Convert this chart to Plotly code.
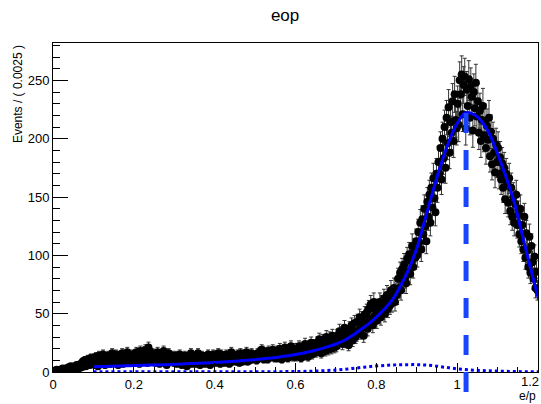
import numpy as np
import plotly.graph_objects as go

# ---- data: histogram of e/p, 480 bins of width 0.0025 on [0, 1.2] ----
bin_width = 0.0025
x_min, x_max = 0.0, 1.2
counts = [
    0, 1, 0, 2, 1, 0, 1, 2, 0, 3, 1, 2, 3, 1, 2, 4, 2, 5, 3, 2,
    4, 5, 2, 6, 4, 3, 6, 7, 4, 9, 6, 10, 5, 8, 11, 7, 6, 12, 9, 10,
    12, 6, 13, 9, 5, 14, 10, 7, 8, 15, 12, 6, 11, 8, 14, 10, 7, 13, 16, 9,
    13, 8, 15, 10, 6, 14, 12, 9, 16, 7, 13, 11, 8, 17, 10, 14, 9, 12, 15, 11,
    14, 9, 17, 11, 15, 7, 18, 12, 10, 16, 13, 19, 11, 8, 21, 18, 13, 10, 16, 12,
    15, 8, 13, 17, 10, 7, 14, 12, 9, 18, 11, 13, 6, 15, 16, 9, 12, 10, 14, 8,
    9, 14, 7, 12, 8, 15, 10, 6, 13, 9, 14, 11, 5, 12, 8, 10, 16, 7, 11, 9,
    12, 7, 10, 16, 8, 6, 11, 14, 9, 13, 7, 10, 8, 15, 11, 6, 12, 9, 15, 10,
    8, 14, 10, 16, 12, 7, 15, 9, 13, 8, 12, 15, 10, 14, 7, 11, 17, 9, 13, 11,
    13, 9, 15, 10, 8, 16, 12, 9, 15, 11, 13, 17, 9, 14, 10, 12, 16, 11, 14, 12,
    14, 10, 16, 12, 17, 13, 19, 18, 11, 15, 12, 17, 11, 18, 14, 13, 16, 19, 14, 12,
    15, 18, 12, 16, 20, 13, 11, 18, 15, 21, 13, 17, 12, 19, 15, 22, 16, 13, 20, 14,
    13, 20, 15, 22, 17, 12, 21, 18, 14, 24, 16, 19, 13, 22, 18, 25, 15, 20, 23, 17,
    17, 25, 19, 28, 21, 16, 27, 22, 24, 18, 30, 23, 19, 29, 25, 20, 31, 24, 21, 28,
    22, 31, 25, 35, 27, 33, 24, 30, 38, 26, 34, 29, 23, 37, 31, 40, 27, 35, 42, 30,
    32, 43, 36, 47, 34, 45, 39, 31, 49, 42, 51, 37, 54, 44, 58, 46, 40, 60, 48, 53,
    44, 55, 49, 60, 47, 58, 52, 63, 50, 56, 66, 54, 61, 57, 70, 59, 65, 72, 60, 68,
    66, 80, 72, 85, 70, 88, 78, 92, 81, 76, 97, 86, 101, 84, 95, 108, 90, 104, 98, 112,
    100, 120, 111, 128, 105, 131, 118, 140, 125, 112, 146, 133, 152, 128, 158, 141, 166, 149, 137, 170,
    158, 180, 170, 192, 165, 200, 183, 210, 175, 218, 196, 227, 188, 214, 205, 232, 198, 238, 216, 209,
    230, 212, 250, 238, 255, 221, 246, 253, 209, 242, 228, 251, 218, 245, 236, 207, 240, 226, 248, 219,
    232, 205, 224, 198, 216, 228, 203, 215, 192, 211, 199, 218, 185, 206, 178, 200, 188, 171, 195, 180,
    192, 170, 184, 165, 179, 158, 175, 148, 170, 162, 145, 166, 138, 158, 133, 150, 128, 144, 152, 126,
    135, 118, 140, 112, 126, 105, 133, 98, 119, 104, 90, 116, 85, 108, 94, 80, 99, 72, 86, 70,
]

fit_x = [0.10, 0.12, 0.14, 0.16, 0.18, 0.20, 0.22, 0.24, 0.26, 0.28,
         0.30, 0.32, 0.34, 0.36, 0.38, 0.40, 0.42, 0.44, 0.46, 0.48,
         0.50, 0.52, 0.54, 0.56, 0.58, 0.60, 0.62, 0.64, 0.66, 0.68,
         0.70, 0.72, 0.74, 0.76, 0.78, 0.80, 0.82, 0.84, 0.86, 0.88,
         0.90, 0.92, 0.94, 0.96, 0.98, 1.00, 1.02, 1.04, 1.06, 1.08,
         1.10, 1.12, 1.14, 1.16, 1.18, 1.20]
fit_total = [4.5, 4.7, 4.9, 5.1, 5.3, 5.5, 5.7, 5.9, 6.1, 6.3,
             6.6, 6.9, 7.2, 7.5, 7.8, 8.2, 8.6, 9.0, 9.5, 10.0,
             10.6, 11.3, 12.0, 12.9, 13.9, 15.0, 16.3, 17.8, 19.6, 21.7,
             24.0, 27.0, 31.0, 36.0, 41.0, 47.0, 54.0, 62.0, 74.0, 88.0,
             106.0, 130.0, 155.0, 178.0, 198.0, 213.0, 222.0, 221.0, 215.0, 204.0,
             187.0, 168.0, 147.0, 119.0, 91.0, 64.0]
fit_bkg = [0.3, 0.3, 0.3, 0.3, 0.3, 0.3, 0.3, 0.3, 0.3, 0.3,
           0.3, 0.3, 0.3, 0.3, 0.3, 0.3, 0.3, 0.3, 0.3, 0.3,
           0.3, 0.3, 0.3, 0.3, 0.35, 0.4, 0.5, 0.7, 1.0, 1.3,
           1.7, 2.3, 3.0, 3.8, 4.5, 5.2, 5.6, 6.0, 6.2, 6.3,
           6.3, 6.0, 5.4, 4.5, 3.6, 2.7, 2.1, 1.6, 1.3, 1.0,
           0.8, 0.6, 0.45, 0.3, 0.25, 0.2]

x_tick_vals = [0, 0.2, 0.4, 0.6, 0.8, 1.0, 1.2]
x_tick_text = ["0", "0.2", "0.4", "0.6", "0.8", "1", "1.2"]

peak_mean = 1.022        # position of the fitted mean (dashed marker)
peak_height = 222.0      # fitted value at the mean
line_bottom = -19.0      # dashed marker continues below the axis

y_range = [0, 282]

# ---- derived ----
n = np.array(counts, dtype=float)
centers = x_min + bin_width * (np.arange(len(counts)) + 0.5)
err_lo = np.sqrt(n)
err_hi = np.where(n > 0, np.sqrt(n), 1.15)

FONT = "Liberation Sans, Arial, Helvetica, sans-serif"

fig = go.Figure()
fig.add_trace(go.Scatter(
    x=centers, y=n, mode="markers",
    marker=dict(color="black", size=8, line=dict(width=0)),
    error_y=dict(type="data", array=err_hi, arrayminus=err_lo,
                 color="#333333", thickness=1, width=2),
    showlegend=False, hoverinfo="skip",
))
fig.add_trace(go.Scatter(
    x=fit_x, y=fit_bkg, mode="lines", line_shape="spline",
    line=dict(color="#0000ff", width=3, dash="3px,3px"),
    showlegend=False, hoverinfo="skip",
))
fig.add_trace(go.Scatter(
    x=fit_x, y=fit_total, mode="lines", line_shape="spline",
    line=dict(color="#0000ff", width=3),
    showlegend=False, hoverinfo="skip",
))

span = y_range[1] - y_range[0]
fig.add_shape(
    type="line", xref="x", yref="paper",
    x0=peak_mean, x1=peak_mean,
    y0=(peak_height - y_range[0]) / span, y1=(line_bottom - y_range[0]) / span,
    line=dict(color="#1a45ff", width=5, dash="20px,17px"),
    layer="above",
)

# last x tick label is placed as an annotation pulled inside the page edge
fig.update_layout(
    width=541, height=404,
    margin=dict(l=53, r=3, t=43, b=32, autoexpand=False),
    paper_bgcolor="white", plot_bgcolor="white",
    font=dict(family=FONT, color="black", size=13),
    title=dict(text="eop", x=0.527, xanchor="center", xref="container",
               y=1 - 15 / 404, yanchor="middle", yref="container",
               font=dict(size=17, family=FONT, color="black")),
    annotations=[
        dict(text="Events / ( 0.0025 )", textangle=-90, showarrow=False,
             xref="paper", yref="paper", x=-0.072, y=1.0,
             xanchor="center", yanchor="top", font=dict(size=12, family=FONT)),
        dict(text="e/p", showarrow=False, xref="paper", yref="paper",
             x=1.0, y=-0.072, xanchor="right", yanchor="middle",
             font=dict(size=12, family=FONT)),
        dict(text=x_tick_text[-1], showarrow=False, xref="x", yref="paper",
             x=x_tick_vals[-1], y=-0.029, xanchor="right", yanchor="middle",
             xshift=3, font=dict(size=13, family=FONT)),
    ],
)
fig.update_xaxes(
    range=[x_min, x_max], showgrid=False, zeroline=False,
    showline=True, linecolor="black", linewidth=1, mirror=True,
    ticks="inside", ticklen=9, tickwidth=1, tickcolor="black",
    tickmode="array", tickvals=x_tick_vals, ticktext=x_tick_text[:-1] + [""],
    minor=dict(ticks="inside", ticklen=5, tickwidth=1, tickcolor="black",
               tickmode="linear", tick0=0, dtick=0.05, showgrid=False),
    tickfont=dict(size=13, family=FONT), automargin=False,
)
fig.update_yaxes(
    range=y_range, showgrid=False, zeroline=False,
    showline=True, linecolor="black", linewidth=1, mirror=True,
    ticks="inside", ticklen=15, tickwidth=1, tickcolor="black",
    tick0=0, dtick=50,
    minor=dict(ticks="inside", ticklen=7, tickwidth=1, tickcolor="black", dtick=10, showgrid=False),
    tickfont=dict(size=13, family=FONT), automargin=False,
)

fig.write_html("out.html")
